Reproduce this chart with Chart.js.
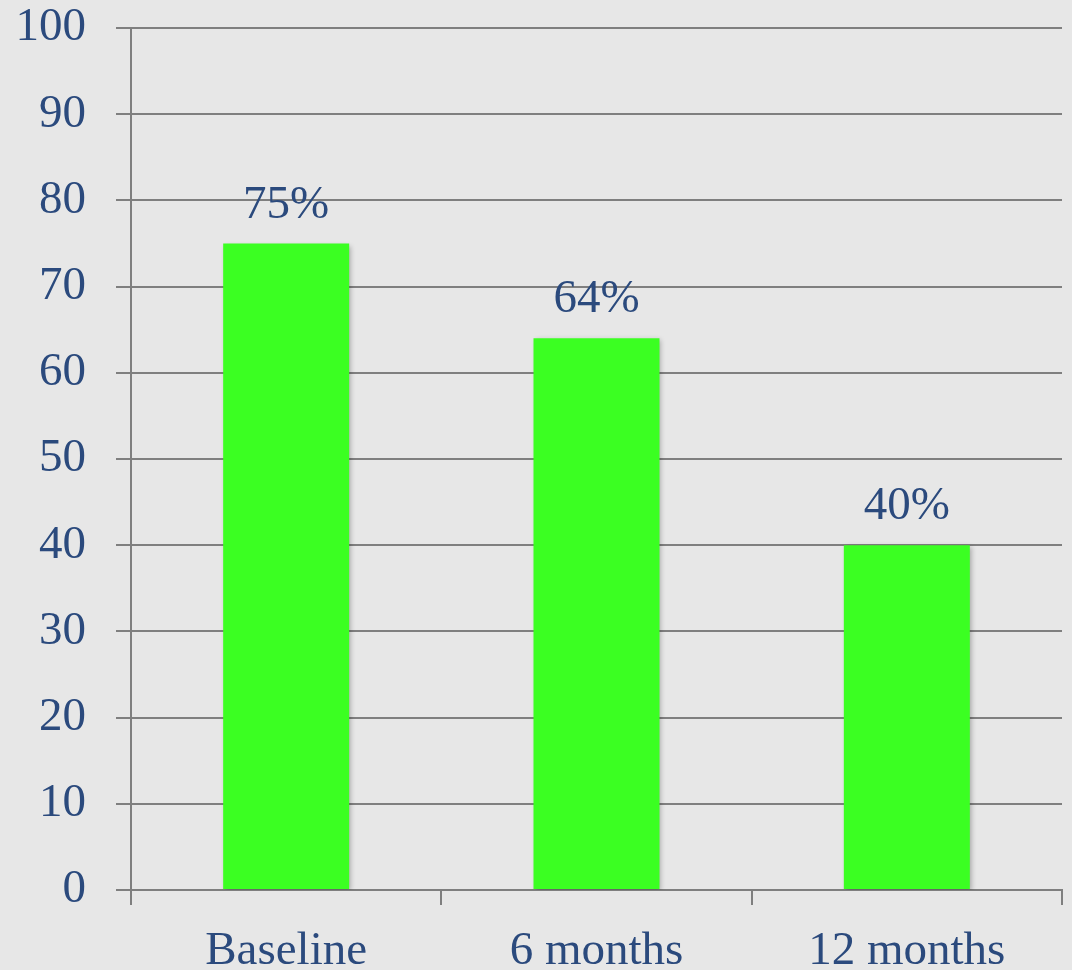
<!DOCTYPE html>
<html>
<head>
<meta charset="utf-8">
<script src="https://cdn.jsdelivr.net/npm/chart.js@4.4.1/dist/chart.umd.min.js"></script>
<style>
  html, body { margin: 0; padding: 0; background: #e7e7e7; }
  #wrap { width: 1072px; height: 970px; position: relative; }
</style>
</head>
<body>
<div id="wrap"><canvas id="c" width="1072" height="970"></canvas></div>
<script>
const categories = ["Baseline", "6 months", "12 months"];
const values = [75, 64, 40];
const valueLabels = ["75%", "64%", "40%"];
const yTicks = [0, 10, 20, 30, 40, 50, 60, 70, 80, 90, 100];

const textColor = '#2B4A7D';
const fontFamily = '"Liberation Serif", "DejaVu Serif", serif';

const barLabelPlugin = {
  id: 'barLabels',
  beforeDatasetsDraw(chart) {
    const ctx = chart.ctx;
    ctx.save();
    ctx.shadowColor = 'rgba(0,0,0,0.28)';
    ctx.shadowBlur = 5;
    ctx.shadowOffsetX = 2;
    ctx.shadowOffsetY = 2;
  },
  afterDatasetsDraw(chart) {
    const ctx = chart.ctx;
    ctx.restore();
    ctx.save();
    ctx.font = '47px ' + fontFamily;
    ctx.fillStyle = textColor;
    ctx.textAlign = 'center';
    ctx.textBaseline = 'alphabetic';
    chart.getDatasetMeta(0).data.forEach((bar, i) => {
      ctx.fillText(valueLabels[i], bar.x, bar.y - 26);
    });
    ctx.restore();
  }
};

new Chart(document.getElementById('c'), {
  type: 'bar',
  data: {
    labels: categories,
    datasets: [{
      data: values,
      backgroundColor: '#3BFF22',
      borderWidth: 0,
      barPercentage: 0.406,
      categoryPercentage: 1.0
    }]
  },
  options: {
    responsive: false,
    animation: false,
    devicePixelRatio: 1,
    layout: { padding: { top: 28, right: 10, bottom: 0, left: 0 } },
    plugins: {
      legend: { display: false },
      tooltip: { enabled: false }
    },
    scales: {
      x: {
        offset: true,
        grid: {
          offset: true,
          drawOnChartArea: false,
          drawTicks: true,
          tickLength: 15,
          color: '#7f7f7f',
          lineWidth: 2
        },
        border: { display: true, color: '#7f7f7f', width: 2 },
        ticks: {
          color: textColor,
          font: { family: fontFamily, size: 47 },
          padding: 18,
          maxRotation: 0
        },
        afterFit(scale) { scale.height = 80; }
      },
      y: {
        min: 0,
        max: 100,
        afterBuildTicks(scale) { scale.ticks = yTicks.map(v => ({ value: v })); },
        grid: {
          color: '#7f7f7f',
          lineWidth: 2,
          tickLength: 15,
          drawTicks: true
        },
        border: { display: true, color: '#7f7f7f', width: 2 },
        ticks: {
          color: textColor,
          font: { family: fontFamily, size: 47 },
          padding: 30
        },
        afterFit(scale) {
          scale.width = 131;
          scale.paddingTop = 0;
          scale.paddingBottom = 0;
        }
      }
    }
  },
  plugins: [barLabelPlugin]
});
</script>
</body>
</html>
